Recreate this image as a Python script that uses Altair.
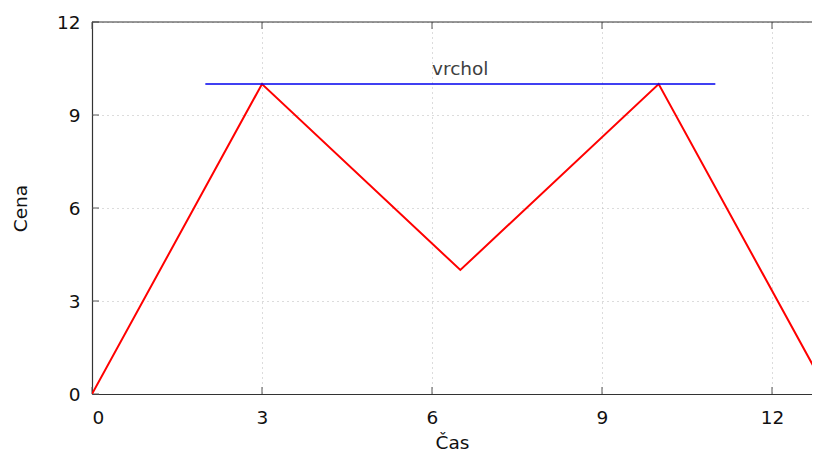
import altair as alt
import pandas as pd

cas = [0, 3, 6.5, 10, 13]
cena = [0, 10, 4, 10, 0]
peak_x = [2, 11]
peak_y = [10, 10]
label_text = ["vrchol"]
label_x = [6]
label_y = [10.5]
x_ticks = [0, 3, 6, 9, 12]
y_ticks = [0, 3, 6, 9, 12]

PX_PER_UNIT = 170 / 3
W, H = 720, 372
X_MAX = W / PX_PER_UNIT
FONT = "DejaVu Sans"

xs = alt.Scale(domain=[0, X_MAX], nice=False, zero=False)
ys = alt.Scale(domain=[0, 12], nice=False)

df = pd.DataFrame({"x": cas, "y": cena})
pk = pd.DataFrame({"x": peak_x, "y": peak_y})
lb = pd.DataFrame({"x": label_x, "y": label_y, "t": label_text})
xt = pd.DataFrame({"v": x_ticks})
yt = pd.DataFrame({"v": y_ticks})

line = alt.Chart(df).mark_line(color="#ff0000", strokeWidth=2, clip=True).encode(
    x=alt.X("x:Q", scale=xs, title="Čas",
            axis=alt.Axis(values=x_ticks, ticks=False, labelPadding=14, format="d",
                          grid=True, gridDash=[1, 4], gridColor="#b8b8b8",
                          titleY=54, titleBaseline="alphabetic")),
    y=alt.Y("y:Q", scale=ys, title="Cena",
            axis=alt.Axis(values=y_ticks, ticks=False, labelPadding=12, format="d",
                          grid=True, gridDash=[1, 4], gridColor="#b8b8b8",
                          titleX=-72, titleY=H / 2, titleBaseline="middle", titleAngle=-90)),
)

peak = alt.Chart(pk).mark_line(color="#0000ee", strokeWidth=1.5, clip=True).encode(
    x=alt.X("x:Q", scale=xs), y=alt.Y("y:Q", scale=ys)
)

txt = alt.Chart(lb).mark_text(align="left", baseline="middle", fontSize=18.5,
                              font=FONT, color="#404040").encode(
    x=alt.X("x:Q", scale=xs), y=alt.Y("y:Q", scale=ys), text="t:N"
)

xtick_b = alt.Chart(xt).mark_rule(color="#555555", strokeWidth=1).encode(
    x=alt.X("v:Q", scale=xs), y=alt.value(H), y2=alt.value(H - 7)
)
xtick_t = alt.Chart(xt).mark_rule(color="#555555", strokeWidth=1).encode(
    x=alt.X("v:Q", scale=xs), y=alt.value(0), y2=alt.value(7)
)
ytick_l = alt.Chart(yt).mark_rule(color="#555555", strokeWidth=1).encode(
    y=alt.Y("v:Q", scale=ys), x=alt.value(0), x2=alt.value(7)
)
top_border = alt.Chart(pd.DataFrame({"a": [0]})).mark_rule(
    color="#333333", strokeWidth=1.2
).encode(y=alt.value(0), x=alt.value(0), x2=alt.value(W))

chart = alt.layer(xtick_b, xtick_t, ytick_l, top_border, line, peak, txt).properties(
    width=W, height=H,
    autosize=alt.AutoSizeParams(type="none"),
    padding={"left": 84, "top": 14, "right": 0, "bottom": 60},
).configure_view(stroke=None).configure_axis(
    labelFont=FONT, titleFont=FONT, labelFontSize=18.5, titleFontSize=18.5,
    labelColor="#111111", titleColor="#111111", titleFontWeight="normal",
    domainColor="#333333", domainWidth=1.2,
)

chart.save("out.html", embed_options={"renderer": "svg", "actions": False})
